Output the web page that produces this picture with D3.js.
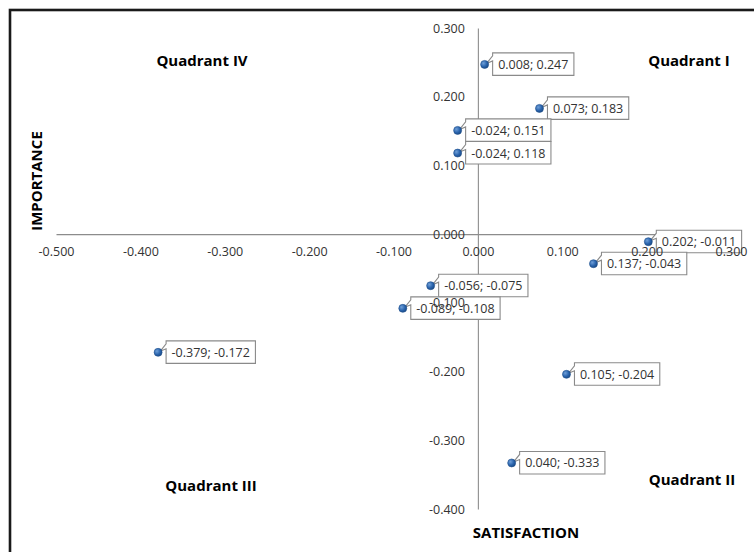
<!DOCTYPE html>
<html>
<head>
<meta charset="utf-8">
<script src="https://cdn.jsdelivr.net/npm/d3@7"></script>
<style>
  html, body { margin: 0; padding: 0; background: #fff; }
  svg { display: block; }
</style>
</head>
<body>
<svg id="chart" width="754" height="552"></svg>
<script>
// ---- data ----
const satisfaction = [0.008, 0.073, -0.024, -0.024, 0.202, 0.137, -0.056, -0.089, -0.379, 0.105, 0.040];
const importance   = [0.247, 0.183, 0.151, 0.118, -0.011, -0.043, -0.075, -0.108, -0.172, -0.204, -0.333];
const pointLabels  = ["0.008; 0.247", "0.073; 0.183", "-0.024; 0.151", "-0.024; 0.118", "0.202; -0.011",
                      "0.137; -0.043", "-0.056; -0.075", "-0.089; -0.108", "-0.379; -0.172", "0.105; -0.204", "0.040; -0.333"];
const xTickValues = [-0.5, -0.4, -0.3, -0.2, -0.1, 0.0, 0.1, 0.2, 0.3];
const xTickLabels = ["-0.500", "-0.400", "-0.300", "-0.200", "-0.100", "0.000", "0.100", "0.200", "0.300"];
const yTickValues = [-0.4, -0.3, -0.2, -0.1, 0.0, 0.1, 0.2, 0.3];
const yTickLabels = ["-0.400", "-0.300", "-0.200", "-0.100", "0.000", "0.100", "0.200", "0.300"];
const quadrantNames = ["Quadrant I", "Quadrant II", "Quadrant III", "Quadrant IV"];
const xTitle = "SATISFACTION";
const yTitle = "IMPORTANCE";

// ---- layout ----
const svg = d3.select("#chart");
const x = d3.scaleLinear().domain([-0.5, 0.3]).range([56, 731]);
const y = d3.scaleLinear().domain([-0.4, 0.3]).range([509, 28]);
const FONT = "'Open Sans', 'Noto Sans', sans-serif";
const FS = 12.5;

// outer border (only top & left visible in frame)
svg.append("rect")
  .attr("x", 10).attr("y", 10).attr("width", 800).attr("height", 600)
  .attr("fill", "none").attr("stroke", "#1a1a1a").attr("stroke-width", 2.6);

const xLabelFmt = v => xTickLabels[xTickValues.findIndex(t => Math.abs(t - v) < 1e-9)];
const yLabelFmt = v => yTickLabels[yTickValues.findIndex(t => Math.abs(t - v) < 1e-9)];

const xAxis = d3.axisBottom(x).tickValues(xTickValues).tickFormat(xLabelFmt)
  .tickSizeInner(0).tickSizeOuter(0).tickPadding(13);
const yAxis = d3.axisLeft(y).tickValues(yTickValues).tickFormat(yLabelFmt)
  .tickSizeInner(0).tickSizeOuter(0).tickPadding(13);

// axis lines (below marks)
const gxLine = svg.append("g").attr("transform", `translate(0,${y(0)})`).call(xAxis);
gxLine.selectAll(".tick").remove();
gxLine.select(".domain").attr("stroke", "#8c8c8c").attr("stroke-width", 1.1);
const gyLine = svg.append("g").attr("transform", `translate(${x(0)},0)`).call(yAxis);
gyLine.selectAll(".tick").remove();
gyLine.select(".domain").attr("stroke", "#8c8c8c").attr("stroke-width", 1.1);

// marker gradient
const defs = svg.append("defs");
const grad = defs.append("radialGradient").attr("id", "mk").attr("cx", "35%").attr("cy", "35%").attr("r", "70%");
grad.append("stop").attr("offset", "0%").attr("stop-color", "#6f9fd8");
grad.append("stop").attr("offset", "60%").attr("stop-color", "#2a64ad");
grad.append("stop").attr("offset", "100%").attr("stop-color", "#1b4a85");

const pts = satisfaction.map((s, i) => ({ s, v: importance[i], label: pointLabels[i] }));

// data labels (callouts)
const lab = svg.append("g");
pts.forEach(d => {
  const mx = x(d.s), my = y(d.v);
  const g = lab.append("g");
  const t = g.append("text")
    .attr("x", mx + 13.5).attr("y", my)
    .attr("dy", "0.36em")
    .attr("font-family", FONT).attr("font-size", FS).attr("fill", "#333")
    .text(d.label);
  const w = t.node().getComputedTextLength() + 11;
  const bx = mx + 8, by = my - 11.5, h = 22.5;
  g.insert("path", "text")
    .attr("d", `M${bx},${by} H${bx + w} V${by + h} H${bx} V${by + 8} L${mx + 2},${my - 1} L${bx},${by + 3} Z`)
    .attr("fill", "#fff").attr("stroke", "#8a8a8a").attr("stroke-width", 1.1);
});

// markers
svg.append("g").selectAll("circle").data(pts).join("circle")
  .attr("cx", d => x(d.s)).attr("cy", d => y(d.v)).attr("r", 4)
  .attr("fill", "url(#mk)").attr("stroke", "#1f4f8c").attr("stroke-width", 0.6);

// tick labels on top
const gxText = svg.append("g").attr("transform", `translate(0,${y(0)})`).call(xAxis);
gxText.select(".domain").remove();
gxText.selectAll("text").attr("font-family", FONT).attr("font-size", FS).attr("fill", "#333");
const gyText = svg.append("g").attr("transform", `translate(${x(0)},0)`).call(yAxis);
gyText.select(".domain").remove();
gyText.selectAll("text").attr("font-family", FONT).attr("font-size", FS).attr("fill", "#333");

// quadrant labels
const qPos = [[689, 61], [692, 480], [211, 486], [202, 61]];
svg.append("g").selectAll("text").data(quadrantNames).join("text")
  .attr("x", (d, i) => qPos[i][0]).attr("y", (d, i) => qPos[i][1])
  .attr("dy", "0.36em").attr("text-anchor", "middle")
  .attr("font-family", FONT).attr("font-size", 15).attr("font-weight", "bold").attr("fill", "#000")
  .text(d => d);

// axis titles
svg.append("text").attr("x", 526).attr("y", 533).attr("dy", "0.36em").attr("text-anchor", "middle")
  .attr("font-family", FONT).attr("font-size", 15).attr("font-weight", "bold").attr("fill", "#000")
  .text(xTitle);
svg.append("text").attr("transform", "translate(37,181) rotate(-90)").attr("dy", "0.36em").attr("text-anchor", "middle")
  .attr("font-family", FONT).attr("font-size", 15).attr("font-weight", "bold").attr("fill", "#000")
  .text(yTitle);
</script>
</body>
</html>
